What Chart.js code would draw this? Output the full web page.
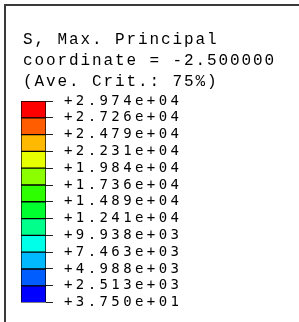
<!DOCTYPE html>
<html>
<head>
<meta charset="utf-8">
<script src="https://cdn.jsdelivr.net/npm/chart.js@4/dist/chart.umd.min.js"></script>
<style>
    html, body { margin: 0; padding: 0; background: #fff; overflow: hidden; }
</style>
</head>
<body>
<canvas id="leyenda" width="299" height="322"></canvas>
<script>
// Textos del encabezado
const titulo = ["S, Max. Principal", "coordinate = -2.500000", "(Ave. Crit.: 75%)"];

// Niveles del contorno (de abajo hacia arriba)
const niveles = [37.5, 2513, 4988, 7463, 9938, 12410, 14890, 17360, 19840, 22310, 24790, 27260, 29740];
const etiquetas = ["+3.750e+01", "+2.513e+03", "+4.988e+03", "+7.463e+03", "+9.938e+03", "+1.241e+04",
    "+1.489e+04", "+1.736e+04", "+1.984e+04", "+2.231e+04", "+2.479e+04", "+2.726e+04", "+2.974e+04"];

// Colores de cada banda (de abajo hacia arriba)
const colores = ["#0000ff", "#005dff", "#00b9ff", "#00ffe8", "#00ff8b", "#00ff2e",
    "#2eff00", "#8bff00", "#e8ff00", "#ffb900", "#ff5d00", "#ff0000"];

// Plugin para el marco y el encabezado
const marcoPlugin = {
    id: "marco",
    beforeDraw(chart) {
        chart.ctx.letterSpacing = "3.4px";
    },
    afterDraw(chart) {
        const ctx = chart.ctx;
        ctx.save();
        ctx.fillStyle = "#3a3a3a";
        ctx.fillRect(4, 4, 295, 2);
        ctx.fillRect(4, 4, 2, 318);
        ctx.fillStyle = "#000";
        ctx.font = '16px "Liberation Mono"';
        ctx.letterSpacing = "1.9px";
        ctx.textBaseline = "alphabetic";
        titulo.forEach((linea, i) => ctx.fillText(linea, 23, 44 + i * 21));
        ctx.restore();
    }
};

const datasets = colores.map((c, i) => ({
    data: [[niveles[i], niveles[i + 1]]],
    backgroundColor: c,
    borderColor: "#000",
    borderWidth: 1,
    borderSkipped: false,
    grouped: false,
    barPercentage: 1,
    categoryPercentage: 1
}));

new Chart(document.getElementById("leyenda"), {
    type: "bar",
    data: { labels: [""], datasets: datasets },
    plugins: [marcoPlugin],
    options: {
        responsive: false,
        animation: false,
        devicePixelRatio: 1,
        layout: { padding: { left: 21, top: 101, bottom: 14, right: 0 } },
        plugins: { legend: { display: false }, tooltip: { enabled: false } },
        scales: {
            x: { display: false },
            y: {
                type: "linear",
                position: "right",
                min: niveles[0],
                max: niveles[niveles.length - 1],
                afterBuildTicks(scale) {
                    scale.ticks = niveles.map(v => ({ value: v }));
                },
                afterFit(scale) {
                    scale.width = 253;
                },
                border: { display: false },
                grid: { drawOnChartArea: false, drawTicks: true, tickLength: 7, color: "#222" },
                ticks: {
                    autoSkip: false,
                    padding: 11,
                    color: "#000",
                    font: { family: "DejaVu Sans Mono", size: 14 },
                    callback: (v, i) => etiquetas[i]
                }
            }
        }
    }
});
</script>
</body>
</html>
